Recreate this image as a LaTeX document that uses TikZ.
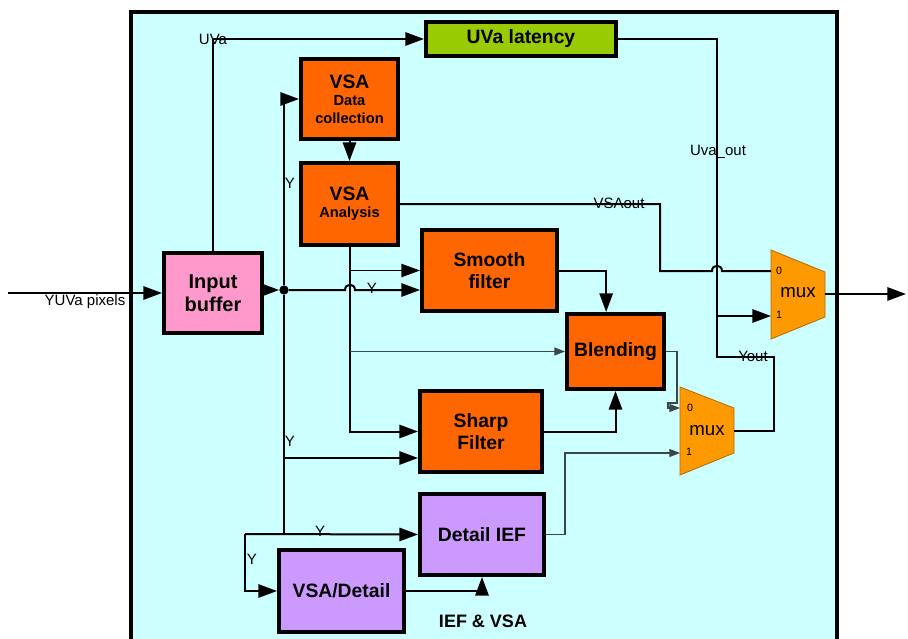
\documentclass[tikz,border=0pt]{standalone}
\usepackage{fontspec}
\setmainfont{Liberation Sans}
\usetikzlibrary{arrows.meta}
\definecolor{ievbg}{RGB}{204,255,255}
\definecolor{ievpink}{RGB}{255,153,204}
\definecolor{ievgreen}{RGB}{153,204,0}
\definecolor{ievorange}{RGB}{255,102,0}
\definecolor{ievpurple}{RGB}{204,153,255}
\definecolor{ievmux}{RGB}{255,153,0}
\definecolor{ievwire}{RGB}{60,70,70}

\begin{document}
\begin{tikzpicture}[x=0.75pt,y=-0.75pt,
  blk/.style={draw,line width=3pt,inner sep=0pt,align=center,font=\bfseries\fontsize{14.5}{17}\selectfont},
  vsablk/.style={blk,font=\bfseries\fontsize{11}{13}\selectfont},
  wire/.style={line width=1.5pt},
  thinw/.style={line width=0.8pt,draw=ievwire},
  bigtip/.style={-{Triangle[length=14pt,width=10pt]}},
  smalltip/.style={-{Triangle[length=8pt,width=6pt]}},
  lbl/.style={font=\fontsize{11.25}{13}\selectfont,inner sep=0pt},
  pin/.style={font=\fontsize{8}{9}\selectfont,inner sep=0pt},
  muxbody/.style={fill=ievmux,draw=ievmux!70!black,line width=0.6pt}]
  \useasboundingbox (0,0) rectangle (908,639);
  \clip (0,0) rectangle (908,639);
  \draw[fill=ievbg,line width=3pt] (131,12) rectangle (837,680);

  \node[blk,fill=ievpink,minimum width=73.5pt,minimum height=60pt,font=\bfseries\fontsize{15}{17}\selectfont] (inbuf) at (213,293) {Input\\buffer};
  \node[blk,fill=ievgreen,minimum width=142.5pt,minimum height=25.5pt] (uvalat) at (521,39) {UVa latency};
  \node[vsablk,fill=ievorange,minimum width=72.75pt,minimum height=60pt] (vsadc) at (349.5,99)
    {{\fontsize{14.5}{15}\selectfont VSA}\\Data\\collection};
  \node[vsablk,fill=ievorange,minimum width=72.75pt,minimum height=61.5pt] (vsaan) at (349.5,204)
    {{\fontsize{14.5}{15}\selectfont VSA}\\Analysis};
  \node[blk,fill=ievorange,minimum width=101.25pt,minimum height=60.75pt] (smooth) at (489.5,270.5) {Smooth\\filter};
  \node[blk,fill=ievorange,minimum width=72.75pt,minimum height=56.25pt] (blend) at (615.5,351.5) {Blending};
  \node[blk,fill=ievorange,minimum width=91.5pt,minimum height=60.75pt] (sharp) at (481,431.5) {Sharp\\Filter};
  \node[blk,fill=ievpurple,minimum width=93pt,minimum height=60.75pt] (detief) at (482,534.5) {Detail IEF};
  \node[blk,fill=ievpurple,minimum width=93.75pt,minimum height=61.5pt] (vsadet) at (341.5,591) {VSA/Detail};
  \node[font=\bfseries\fontsize{13.5}{16}\selectfont] (title) at (483,621) {IEF \& VSA};

  \draw[muxbody] (771,250) -- (825,272) -- (825,317) -- (771,339) -- cycle;
  \draw[muxbody] (680,387) -- (734,408) -- (734,453) -- (680,475) -- cycle;
  \node[font=\fontsize{14}{16}\selectfont] (mux1) at (798,293) {mux};
  \node[font=\fontsize{14}{16}\selectfont] (mux2) at (707,431) {mux};
  \node[pin] (m1p0) at (779,271) {0};
  \node[pin] (m1p1) at (779,315) {1};
  \node[pin] (m2p0) at (690,408) {0};
  \node[pin] (m2p1) at (689,452) {1};

  \coordinate (M1A) at (771,271);
  \coordinate (M1B) at (771,316);
  \coordinate (M1O) at (825,294);
  \coordinate (M2A) at (680,408);
  \coordinate (M2B) at (680,453);
  \coordinate (M2O) at (734,431);
  \coordinate (SRC) at (8,293);
  \coordinate (DST) at (906,294);
  \coordinate (J) at (717,316);
  \coordinate (LY) at (245,534);
  \coordinate (SY) at (284,458);
  \node[circle,fill,inner sep=0pt,minimum size=7pt] (dot) at (284,290) {};

  \draw[wire,bigtip] (SRC) -- (inbuf.west);
  \draw[wire,bigtip] (inbuf.north) |- (uvalat.west);
  \draw[wire] (uvalat.east) -| (J);
  \draw[wire] (vsaan.east) -| (660,271) -- (712,271) .. controls (712,264) and (722,264) .. (722,271) -- (M1A);
  \draw[wire,bigtip] (J) -- (M1B);
  \draw[wire] (M2O) -| (774,357) -| (J);
  \draw[wire,bigtip] (M1O) -- (DST);

  \draw[wire,bigtip] (inbuf.east |- dot) -- (dot);
  \draw[wire,bigtip] (dot) -- (345,290) .. controls (345,283) and (355,283) .. (355,290) -- (smooth.west |- dot);
  \draw[wire,bigtip] (dot) |- (vsadc.west);
  \draw[wire] (dot) -- (dot |- LY);
  \draw[wire,bigtip] (LY) -- (detief.west);
  \draw[wire,bigtip] (LY) |- (vsadet.west);
  \draw[wire,bigtip] (SY) -- (sharp.west |- SY);

  \draw[wire,bigtip] (vsadc.south) -- (vsaan.north);
  \draw[wire,bigtip] (vsaan.south) |- (sharp.west);
  \draw[line width=1pt,bigtip] (vsaan.south |- smooth.west) -- (smooth.west);
  \draw[thinw,smalltip] (vsaan.south |- blend.west) -- (blend.west);

  \draw[wire,bigtip] (smooth.east) -| ([xshift=-7pt]blend.north);
  \draw[wire,bigtip] (sharp.east) -| (blend.south);
  \draw[thinw,smalltip] (blend.east) -| (677,403) -- (668,403) -- (668,408) -- (M2A);
  \draw[thinw,smalltip] (detief.east) -- ++(19,0) |- (M2B);
  \draw[wire,bigtip] (vsadet.east) -| (detief.south);

  \node[lbl] (lsrc) at (85,302) {YUVa pixels};
  \node[lbl] (luva) at (213,39) {UVa};
  \node[lbl] (luvo) at (718,152) {Uva\_out};
  \node[lbl] (lvso) at (619,203) {VSAout};
  \node[lbl] (lyot) at (753,356) {Yout};
  \node[lbl] (ly1) at (290,183) {Y};
  \node[lbl] (ly2) at (372,288) {Y};
  \node[lbl] (ly3) at (290,441) {Y};
  \node[lbl] (ly4) at (320,531) {Y};
  \node[lbl] (ly5) at (252,559) {Y};
\end{tikzpicture}
\end{document}
